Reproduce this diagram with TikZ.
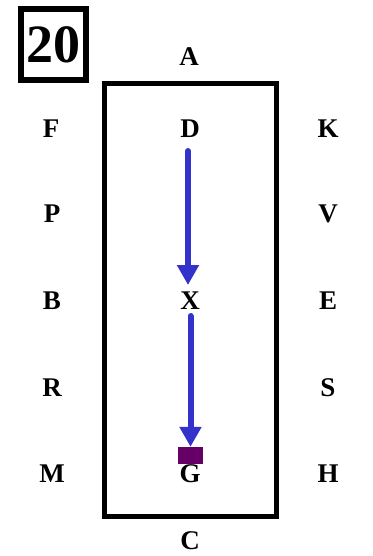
\documentclass[tikz,border=0pt]{standalone}
\usepackage{fontspec}
\setmainfont{Liberation Serif}[BoldFont={Liberation Serif Bold}]
\usetikzlibrary{arrows.meta}
\definecolor{arrblue}{RGB}{51,51,204}
\definecolor{sqpurple}{RGB}{102,0,102}
\tikzset{
  lbl/.style={inner sep=0pt, font=\fontsize{27}{27}\selectfont\bfseries},
  arr/.style={draw=arrblue, line width=6pt, line cap=round,
    -{Triangle[width=21pt,length=20pt]}},
}
\begin{document}
\begin{tikzpicture}[x=1pt,y=-1pt]
\useasboundingbox (0,0) rectangle (372,556);
% number box
\node[draw, line width=6pt, minimum width=65pt, minimum height=71pt, inner sep=0pt,
      font=\fontsize{54}{54}\selectfont\bfseries] (num) at (53.5,44.5) {20};
% arena
\draw[line width=5pt, line join=miter] (104.5,83.5) rectangle (276.5,516.5);
% letters
\node[lbl] (A) at (189,57) {A};
\node[lbl] (F) at (51,129) {F};
\node[lbl] (D) at (190,129) {D};
\node[lbl] (K) at (328,129) {K};
\node[lbl] (P) at (52,214) {P};
\node[lbl] (V) at (328,214) {V};
\node[lbl] (B) at (52,301) {B};
\node[lbl] (X) at (190,301) {X};
\node[lbl] (E) at (328,301) {E};
\node[lbl] (R) at (52,388) {R};
\node[lbl] (S) at (328,388) {S};
\node[lbl] (M) at (52,474) {M};
\node[lbl] (G) at (190,474) {G};
\node[lbl] (H) at (328,474) {H};
\node[lbl] (C) at (190,541) {C};
% marker
\node[fill=sqpurple, minimum width=25pt, minimum height=17pt, inner sep=0pt] (sq) at (190.5,455.5) {};
% arrows
\coordinate (s1) at (188,151);
\coordinate (e1) at (188,285);
\coordinate (s2) at (190.5,316);
\draw[arr] (s1) -- (e1);
\draw[arr] (s2) -- (sq.north);
\end{tikzpicture}
\end{document}
